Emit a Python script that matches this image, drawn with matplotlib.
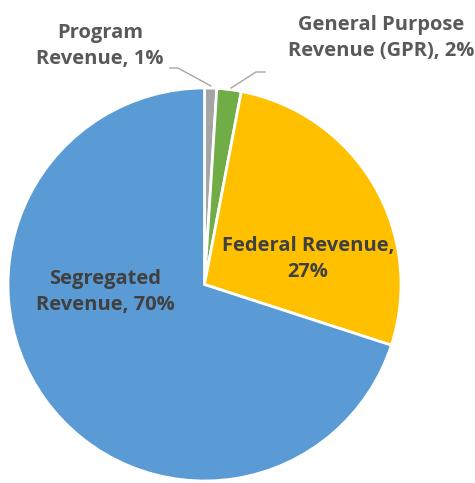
import matplotlib
matplotlib.use("Agg")
import matplotlib.pyplot as plt

# revenue shares, clockwise from 12 o'clock
labels = ["Program\nRevenue, 1%", "General Purpose\nRevenue (GPR), 2%",
          "Federal Revenue,\n27%", "Segregated\nRevenue, 70%"]
shares = [1, 2, 27, 70]
colors = ["#A5A5A5", "#70AD47", "#FFC000", "#5B9BD5"]

W, H = 475, 483

plt.rcParams['font.family'] = ['Open Sans', 'DejaVu Sans']

fig = plt.figure(figsize=(W / 100, H / 100), dpi=100)
ax = fig.add_axes([0, 0, 1, 1])

cx, cy, r = 204.5, H - 284.5, 196.5
wedges, _ = ax.pie(shares, colors=colors, startangle=90, counterclock=False,
                   center=(cx, cy), radius=r, frame=True,
                   wedgeprops=dict(edgecolor="white", linewidth=2))
ax.set_xlim(0, W)
ax.set_ylim(0, H)
ax.axis("off")

def py(y):
    return H - y

fs = 14.5
ls = 1.38

# outside labels with leader lines
ax.text(100, py(46), labels[0], ha="center", va="center", fontsize=fs,
        fontweight="bold", color="#595959", linespacing=ls)
ax.plot([170, 178, 211], [py(68), py(68), py(86)], color="#A6A6A6", lw=1)

ax.text(381, py(38), labels[1], ha="center", va="center", fontsize=fs,
        fontweight="bold", color="#595959", linespacing=ls)
ax.plot([265, 256, 231], [py(72), py(72), py(88)], color="#A6A6A6", lw=1)

# inside labels
ax.text(308, py(259), labels[2], ha="center", va="center", fontsize=fs,
        fontweight="bold", color="#404040", linespacing=ls)
ax.text(105, py(292), labels[3], ha="center", va="center", fontsize=fs,
        fontweight="bold", color="#404040", linespacing=ls)

fig.savefig("out.png", dpi=100, facecolor="white")
